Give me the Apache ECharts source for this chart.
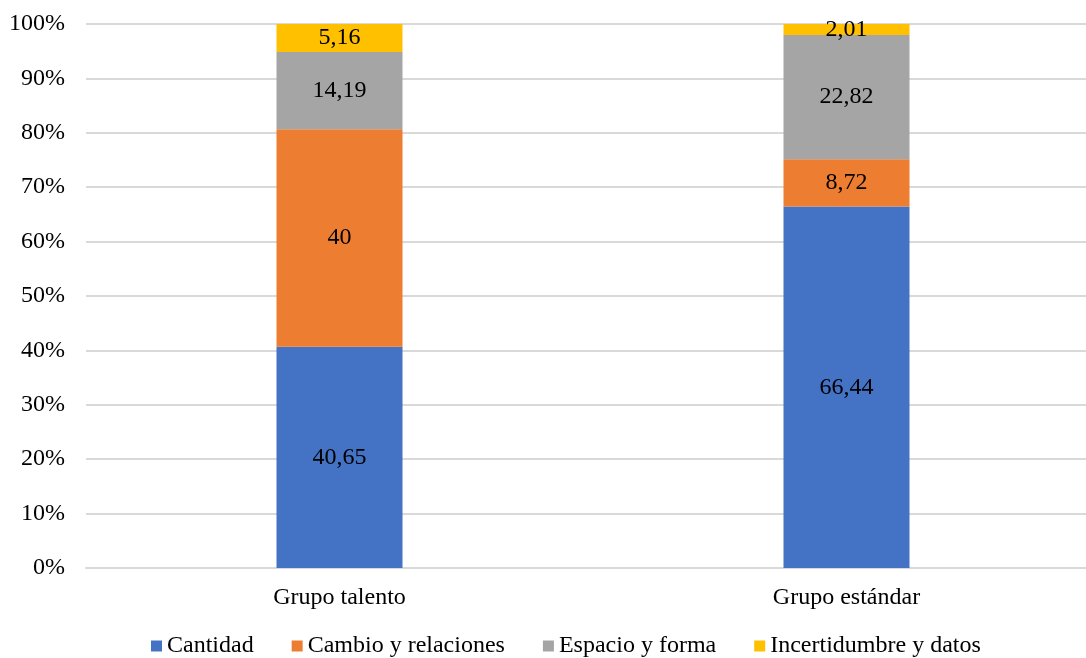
<!doctype html>
<html>
    <head>
        <meta charset="utf-8">
        <title>Grupo talento vs Grupo estándar</title>
        <style>
            html, body { margin: 0; padding: 0; background: #fff; }
            #main { width: 1086px; height: 658px; }
        </style>
    </head>
    <body>
        <div id="main"></div>
        <script src="https://cdn.jsdelivr.net/npm/echarts@6/dist/echarts.min.js"></script>
        <script>
            var categories = ['Grupo talento', 'Grupo estándar'];
            var seriesNames = ['Cantidad', 'Cambio y relaciones', 'Espacio y forma', 'Incertidumbre y datos'];
            var cantidad = [40.65, 66.44];
            var cambio = [40, 8.72];
            var espacio = [14.19, 22.82];
            var incertidumbre = [5.16, 2.01];
            var yTicks = [0, 10, 20, 30, 40, 50, 60, 70, 80, 90, 100];

            var colors = ['#4472C4', '#ED7D31', '#A5A5A5', '#FFC000'];
            var font = "'Liberation Serif', 'Times New Roman', serif";

            var chart = echarts.init(document.getElementById('main'));

            // one bar series per block of the stack
            var makeSeries = function (name, values) {
                return {
                    name: name,
                    type: 'bar',
                    stack: 'total',
                    barWidth: 126,
                    data: values,
                    label: {
                        show: true,
                        position: 'inside',
                        color: '#000',
                        fontFamily: font,
                        fontSize: 24,
                        formatter: function (p) {
                            return String(p.value).replace('.', ',');
                        }
                    }
                };
            };

            chart.setOption({
                color: colors,
                animation: false,
                textStyle: { fontFamily: font },
                // plot runs past the right edge, as in the original
                grid: {
                    left: 86,
                    width: 1014,
                    top: 24,
                    bottom: 90,
                    outerBoundsMode: 'none'
                },
                legend: {
                    bottom: -5,
                    left: 146,
                    icon: 'rect',
                    itemWidth: 11,
                    itemHeight: 11,
                    itemGap: 38,
                    textStyle: { fontFamily: font, fontSize: 24, color: '#000' },
                    data: seriesNames
                },
                xAxis: {
                    type: 'category',
                    data: categories,
                    axisLine: { lineStyle: { color: '#d9d9d9', width: 2 } },
                    axisTick: { show: false },
                    axisLabel: { color: '#000', fontFamily: font, fontSize: 24, margin: 18 }
                },
                yAxis: {
                    type: 'value',
                    min: yTicks[0],
                    max: yTicks[yTicks.length - 1],
                    interval: 10,
                    axisLine: { show: false },
                    axisTick: { show: false },
                    axisLabel: { color: '#000', fontFamily: font, fontSize: 24, margin: 21, formatter: '{value}%' },
                    splitLine: { lineStyle: { color: '#d9d9d9', width: 2 } }
                },
                series: [
                    makeSeries(seriesNames[0], cantidad),
                    makeSeries(seriesNames[1], cambio),
                    makeSeries(seriesNames[2], espacio),
                    makeSeries(seriesNames[3], incertidumbre)
                ]
            });

            window.addEventListener('resize', function () {
                chart.resize();
            });
        </script>
    </body>
</html>
